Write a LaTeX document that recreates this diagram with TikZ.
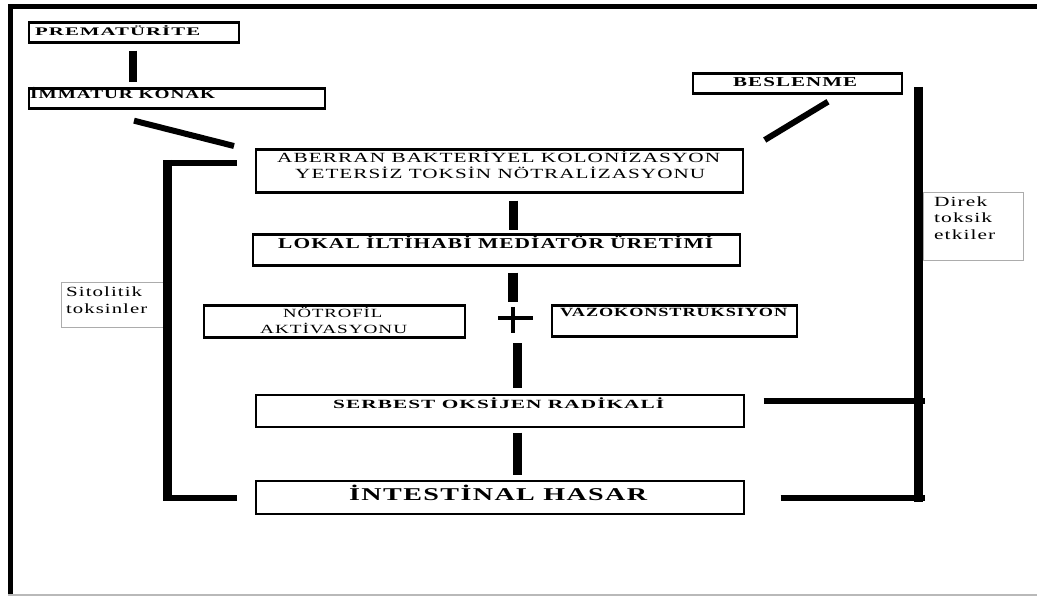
\documentclass[tikz,border=0pt]{standalone}
\usepackage{fontspec}
\setmainfont{Liberation Serif}[LetterSpace=5]
\usetikzlibrary{calc}
\newcommand\hfit[2]{\resizebox{#1pt}{\height}{#2}}
\begin{document}
\begin{tikzpicture}[x=1pt,y=-1pt,
  box/.style={draw, line width=2.7pt, inner sep=0pt, anchor=north west},
  thinbox/.style={draw=gray!65, line width=1pt, inner sep=0pt, anchor=north west},
  txt/.style={inner sep=0pt, anchor=base west, text=black},
  bar/.style={line width=#1pt, line cap=butt},
]
\useasboundingbox (0,0) rectangle (1037,596);
% frame
\draw[line width=5pt] (10.5,596) -- (10.5,6.5) -- (1037,6.5);
\draw[gray!55, line width=1.5pt] (8,595) -- (1037,595);

% boxes
\node[box, minimum width=210pt, minimum height=20pt] (prem) at (27.5,21.5) {};
\node[box, minimum width=296pt, minimum height=20pt] (imm) at (27.5,87.5) {};
\node[box, minimum width=209pt, minimum height=20pt] (besl) at (691.5,72.5) {};
\node[box, minimum width=487pt, minimum height=43pt] (aber) at (254.5,148.5) {};
\node[box, minimum width=487pt, minimum height=31pt] (lokal) at (251.5,233.5) {};
\node[box, minimum width=261pt, minimum height=32pt] (notro) at (202.5,304.5) {};
\node[box, minimum width=245pt, minimum height=31pt] (vazo) at (550.5,304.5) {};
\node[box, minimum width=488pt, minimum height=32pt] (serb) at (254.5,393.5) {};
\node[box, minimum width=488pt, minimum height=33pt] (intes) at (254.5,479.5) {};
\node[thinbox, minimum width=102pt, minimum height=45pt] (sito) at (61,282) {};
\node[thinbox, minimum width=100pt, minimum height=68pt] (direk) at (923,192) {};

% texts
\node[txt, font=\bfseries\fontsize{11.6}{12}\selectfont] (tprem) at (35,36) {\hfit{165}{PREMATÜRİTE}};
\node[txt, font=\bfseries\fontsize{13}{14}\selectfont] (timm) at (30,99) {\hfit{185}{İMMATÜR KONAK}};
\node[txt, font=\bfseries\fontsize{13.6}{14}\selectfont] (tbesl) at (733,87) {\hfit{124}{BESLENME}};
\node[txt, font=\fontsize{14}{15}\selectfont] (tab1) at (277,163) {\hfit{443}{ABERRAN BAKTERİYEL KOLONİZASYON}};
\node[txt, font=\fontsize{14}{15}\selectfont] (tab2) at (295,179) {\hfit{410}{YETERSİZ TOKSİN NÖTRALİZASYONU}};
\node[txt, font=\bfseries\fontsize{15}{16}\selectfont] (tlok) at (278,249) {\hfit{435}{LOKAL İLTİHABİ MEDİATÖR ÜRETİMİ}};
\node[txt, font=\fontsize{12.5}{13}\selectfont] (tno1) at (283,317) {\hfit{99}{NÖTROFİL}};
\node[txt, font=\fontsize{12.5}{13}\selectfont] (tno2) at (260,333) {\hfit{147}{AKTİVASYONU}};
\node[txt, font=\bfseries\fontsize{12.5}{13}\selectfont] (tvaz) at (560,317) {\hfit{227}{VAZOKONSTRÜKSİYON}};
\node[txt, font=\bfseries\fontsize{12.5}{13}\selectfont] (tser) at (333,408) {\hfit{331}{SERBEST OKSİJEN RADİKALİ}};
\node[txt, font=\bfseries\fontsize{18}{19}\selectfont] (tint) at (349,500) {\hfit{298}{İNTESTİNAL HASAR}};
\node[txt, font=\fontsize{14}{15}\selectfont] (tsi1) at (66,297) {\hfit{76}{Sitolitik}};
\node[txt, font=\fontsize{14}{15}\selectfont] (tsi2) at (66,313) {\hfit{81}{toksinler}};
\node[txt, font=\fontsize{14}{15}\selectfont] (tdi1) at (934,207) {\hfit{53}{Direk}};
\node[txt, font=\fontsize{14}{15}\selectfont] (tdi2) at (934,223) {\hfit{58}{toksik}};
\node[txt, font=\fontsize{14}{15}\selectfont] (tdi3) at (934,240) {\hfit{61}{etkiler}};

% connectors
\draw[bar=8] ($(prem.south west)+(105.5,6.5)$) -- ($(imm.north west)+(105.5,-5.5)$);
\draw[bar=6] ($(imm.south west)+(106.5,10.5)$) -- ($(aber.north west)+(-20.5,-2.5)$);
\draw[bar=6] ($(besl.south west)+(136.5,6.5)$) -- ($(aber.north east)+(20.5,-8.5)$);
\draw[bar=9] ($(aber.south west)+(258.5,6.5)$) -- ($(lokal.north west)+(261.5,-3.5)$);
\coordinate (plus) at (513,318);
\draw[bar=10] ($(lokal.south west)+(261.5,5.5)$) -- ($(plus)+(0,-16)$);
\draw[bar=4] ($(plus)+(-15,0)$) -- ($(plus)+(20,0)$);
\draw[bar=4] ($(plus)+(0,-11)$) -- ($(plus)+(0,15)$);
\draw[bar=9] ($(plus)+(4,25)$) -- ($(serb.north west)+(262.5,-5.5)$);
\draw[bar=9] ($(serb.south west)+(262.5,4.5)$) -- ($(intes.north west)+(262.5,-4.5)$);

% left bracket (sitolitik toksinler)
\coordinate (lt) at ($(aber.north west)+(-17.5,14.5)$);
\coordinate (lb) at ($(intes.north west)+(-17.5,18.5)$);
\draw[bar=6] (lt) -- ++(-74,0);
\draw[bar=9] ($(lt)+(-70,-3)$) -- ($(lb)+(-70,3)$);
\draw[bar=6] (lb) -- ++(-74,0);

% right bracket (direk toksik etkiler)
\coordinate (rtop) at (918,87);
\coordinate (rbot) at (918,501.5);
\draw[bar=9] (rtop) -- (rbot);
\draw[bar=6] ($(serb.north east)+(18.5,7.5)$) -- ($(serb.north east)+(180,7.5)$);
\draw[bar=6] ($(intes.north east)+(35.5,18.5)$) -- ($(intes.north east)+(180,18.5)$);
\end{tikzpicture}
\end{document}
